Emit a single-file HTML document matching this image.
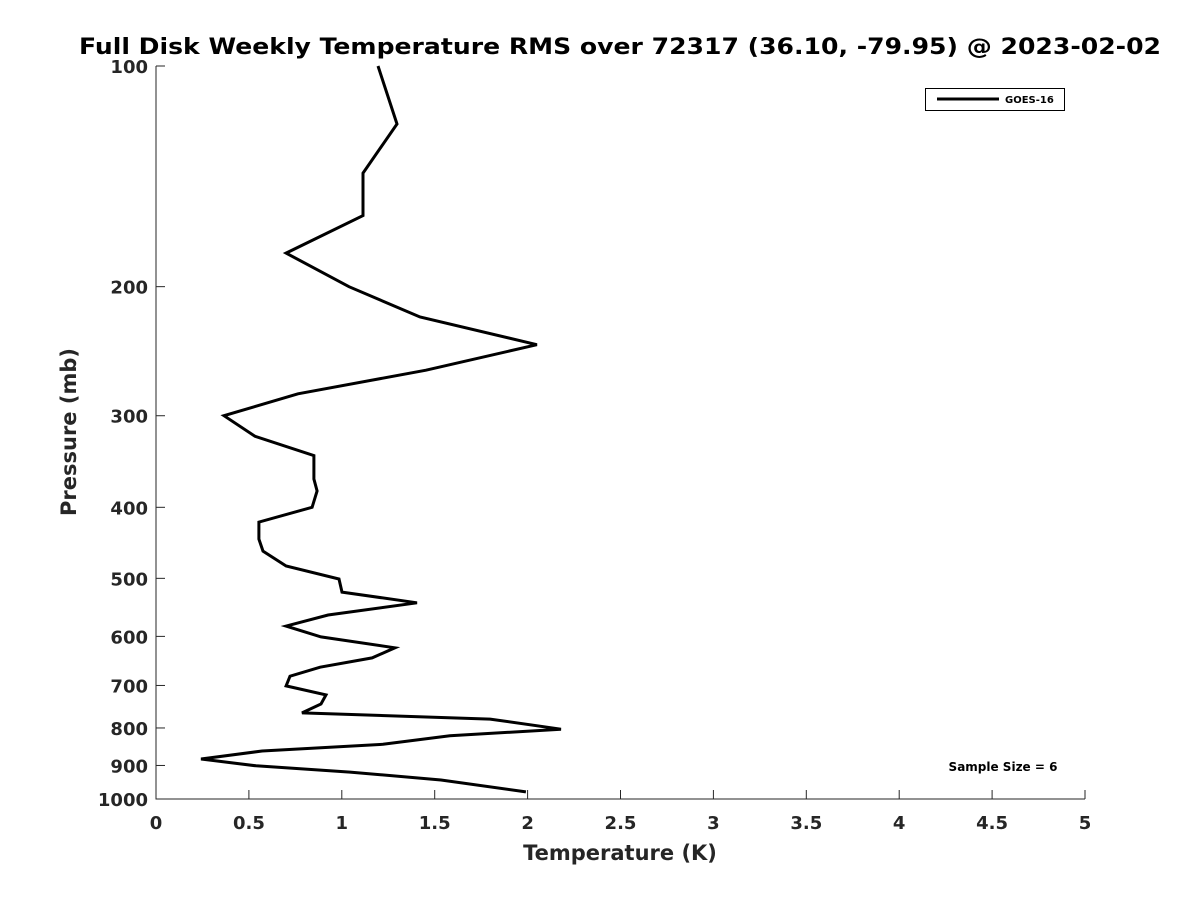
<!DOCTYPE html>
<html><head><meta charset="utf-8"><style>
body{margin:0;background:#fff}
svg{display:block;font-family:"DejaVu Sans","Liberation Sans",sans-serif;font-weight:bold}
</style></head><body>
<svg id="chart" width="1200" height="900">
<text x="620" y="54" text-anchor="middle" font-size="22" textLength="1082" lengthAdjust="spacingAndGlyphs" fill="#000">Full Disk Weekly Temperature RMS over 72317 (36.10, -79.95) @ 2023-02-02</text>
<g id="axes"></g>
<g id="series"></g>
<rect x="925.5" y="88.5" width="139" height="22" fill="#fff" stroke="#000" stroke-width="1"/>
<line x1="937" y1="99" x2="999" y2="99" stroke="#000" stroke-width="3"/>
<text x="1005" y="103" font-size="10" fill="#000">GOES-16</text>
<text x="1003" y="771" text-anchor="middle" font-size="12" fill="#000">Sample Size = 6</text>
<text x="620" y="860" text-anchor="middle" font-size="21" fill="#262626">Temperature (K)</text>
<text transform="translate(76,432) rotate(-90)" text-anchor="middle" font-size="21" fill="#262626">Pressure (mb)</text>
</svg>
<script>
const temps=[1.195,1.297,1.114,1.114,0.70,1.039,1.421,2.05,1.453,0.764,0.366,0.533,0.85,0.85,0.867,0.84,0.554,0.554,0.576,0.70,0.985,1.001,1.405,0.926,0.70,0.888,1.286,1.163,0.883,0.721,0.70,0.915,0.888,0.786,1.798,2.18,1.582,1.222,0.571,0.242,0.538,1.044,1.534,1.991];
const pressures=[100,120,140,160,180,200,220,240,260,280,300,320,340,366,380,400,419,442,459,481,501,522,540,561,581,601,622,642,661,680,701,721,742,763,778,803,820,842,860,882,901,919,942,978];
const xTicks=[0,0.5,1,1.5,2,2.5,3,3.5,4,4.5,5];
const xTickLabels=["0","0.5","1","1.5","2","2.5","3","3.5","4","4.5","5"];
const yTicks=[100,200,300,400,500,600,700,800,900,1000];
const NS="http://www.w3.org/2000/svg";
const X0=156,X1=1085,Y0=66,Y1=799;
function xs(v){return X0+(v-0)/(5-0)*(X1-X0);}
function ys(p){return Y0+(Math.log10(p)-2)/(3-2)*(Y1-Y0);}
function mk(tag,attrs,parent){const e=document.createElementNS(NS,tag);for(const k in attrs)e.setAttribute(k,attrs[k]);parent.appendChild(e);return e;}
const axes=document.getElementById('axes');
let a=mk('line',{x1:X0,y1:Y0,x2:X0,y2:Y1+0.5,stroke:'#262626','stroke-width':1},axes);


a=mk('line',{x1:X0,y1:Y1,x2:X1,y2:Y1,stroke:'#262626','stroke-width':1},axes);


xTicks.forEach((t,i)=>{
 const x=xs(t);
 const l=mk('line',{x1:x,y1:Y1,x2:x,y2:Y1-9,stroke:'#262626','stroke-width':1},axes);
 
 
 const tx=mk('text',{x:x,y:Y1+30,'text-anchor':'middle','font-size':18,fill:'#262626'},axes);
 tx.textContent=xTickLabels[i];
 
 
});
yTicks.forEach(t=>{
 const y=ys(t);
 const l=mk('line',{x1:X0,y1:y,x2:X0+9,y2:y,stroke:'#262626','stroke-width':1},axes);
 
 
 const tx=mk('text',{x:X0-8,y:y+7,'text-anchor':'end','font-size':18,fill:'#262626'},axes);
 tx.textContent=String(t);
 
 
});
const pts=temps.map((t,i)=>xs(t).toFixed(1)+','+ys(pressures[i]).toFixed(1)).join(' ');
const pl=mk('polyline',{points:pts,fill:'none',stroke:'#000','stroke-width':3,'stroke-linejoin':'miter'},document.getElementById('series'));


</script>
</body></html>
